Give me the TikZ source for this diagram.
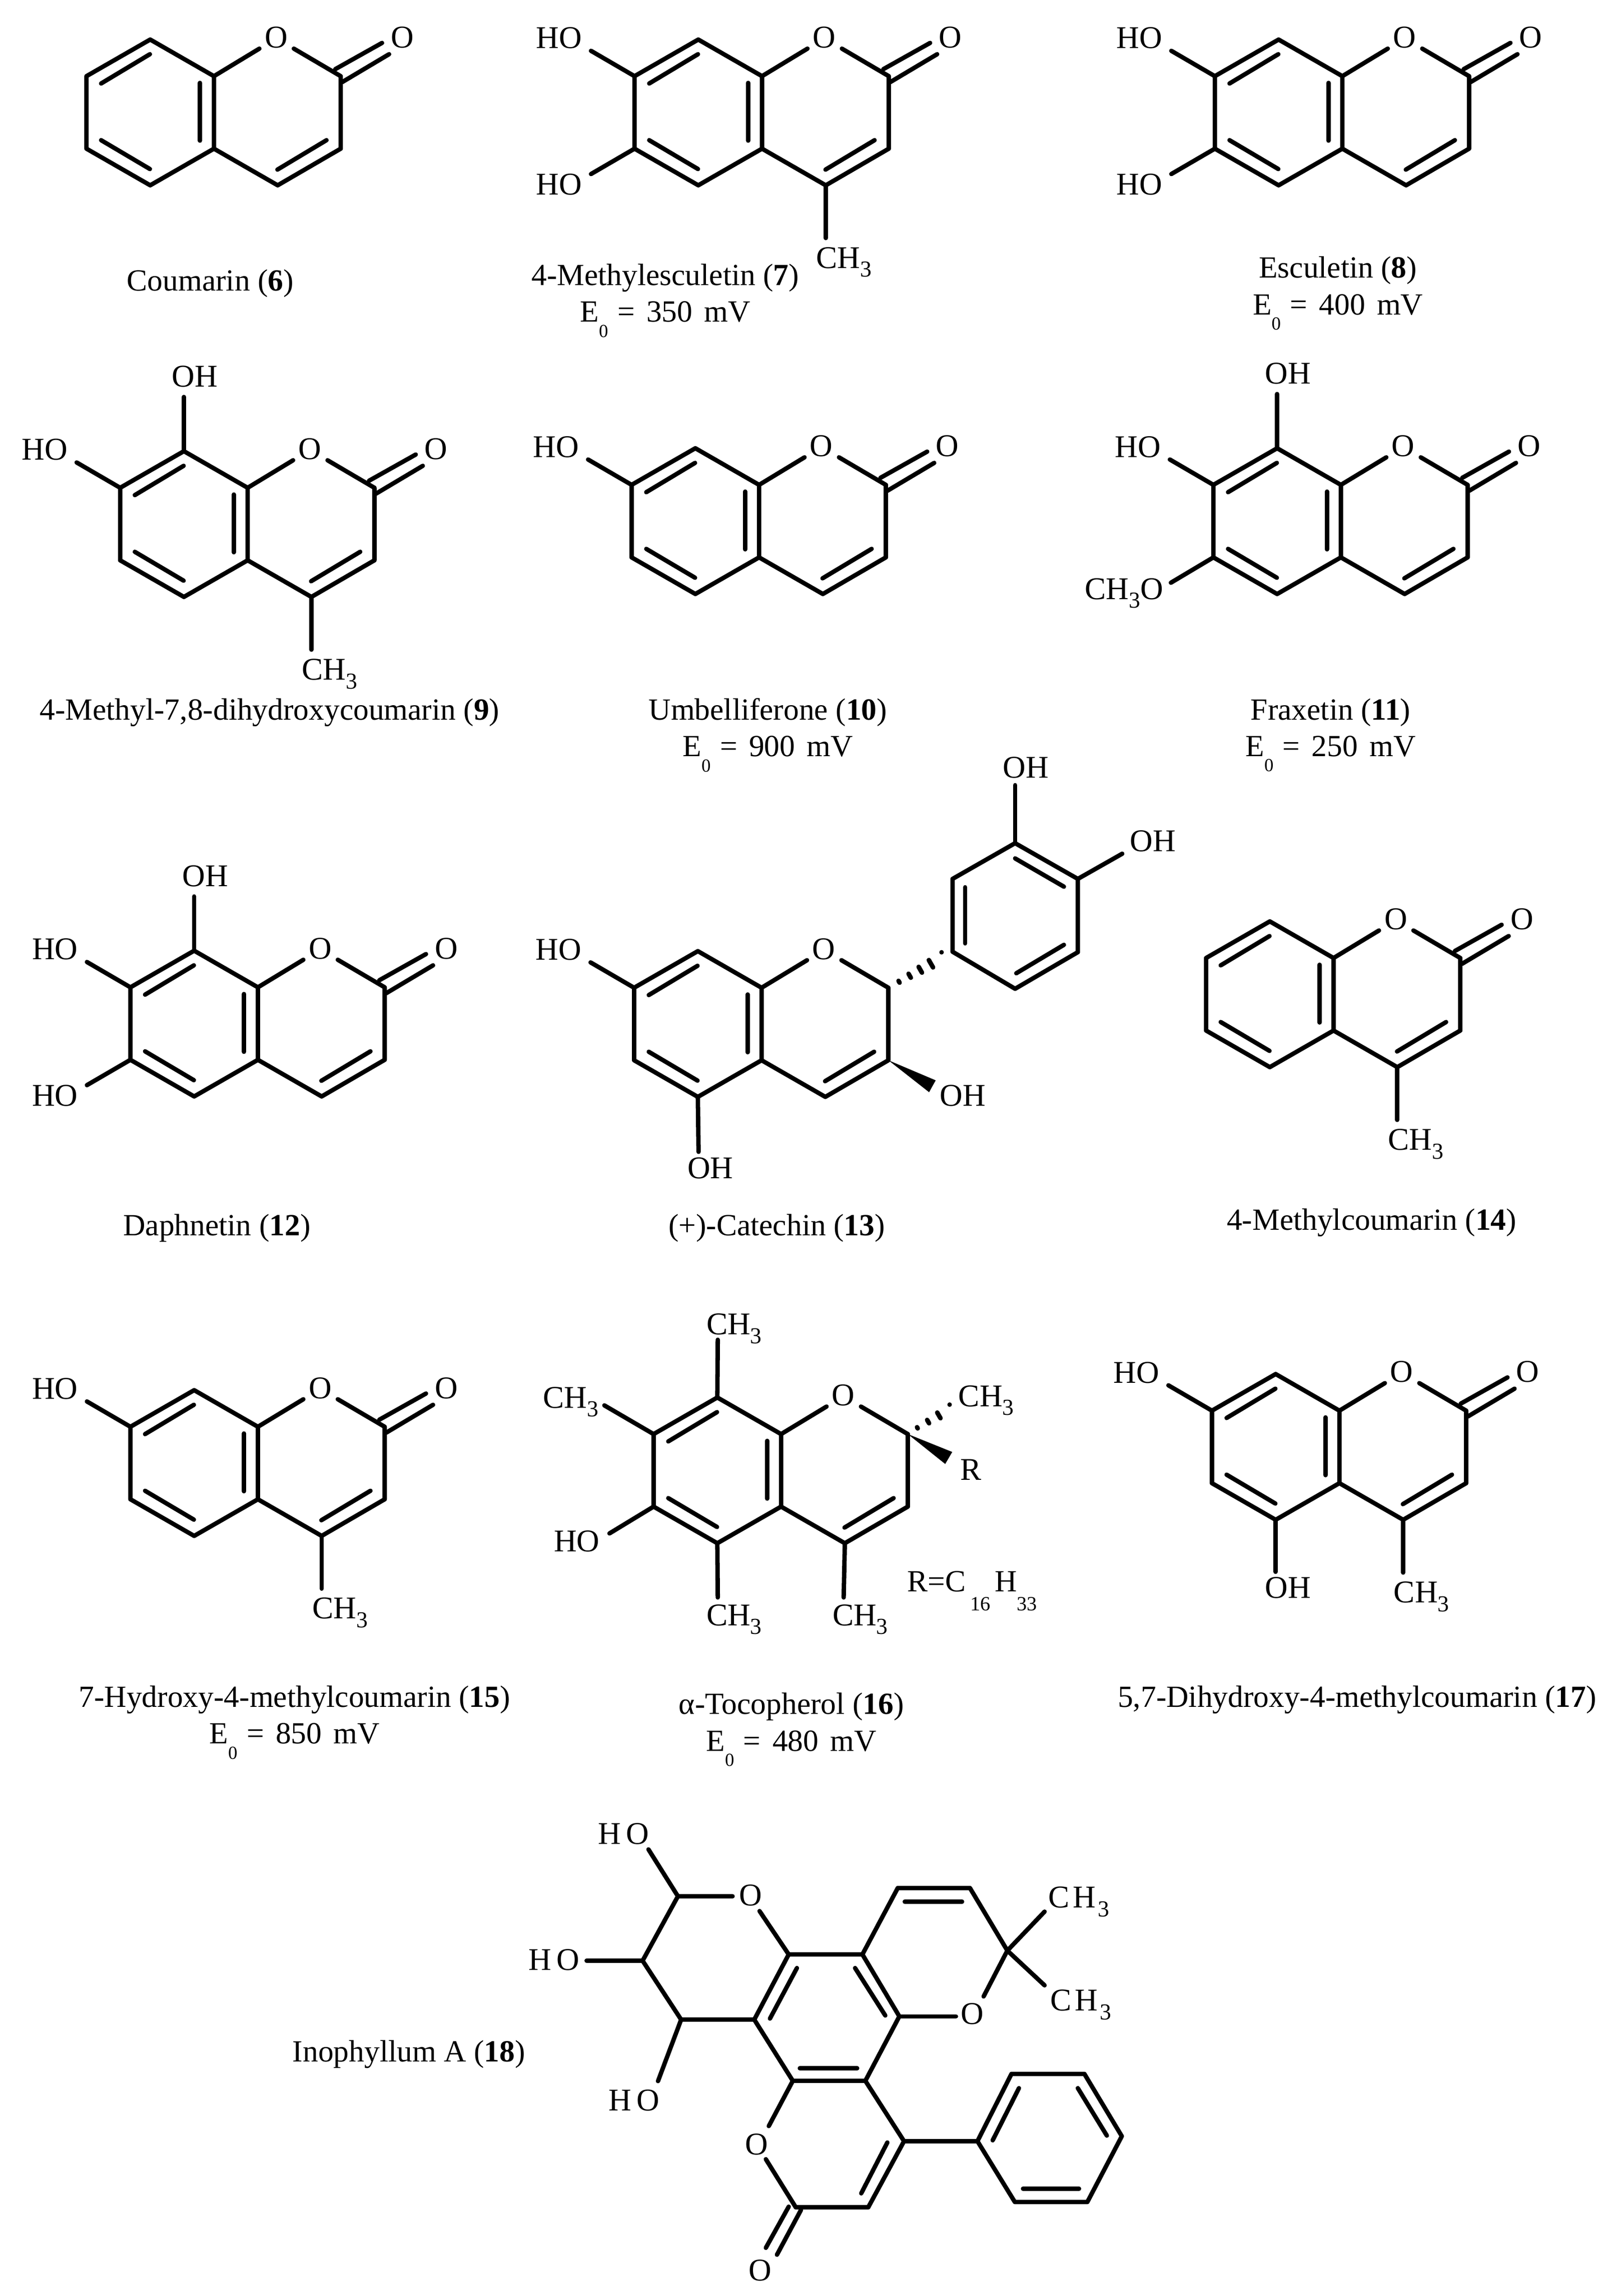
\documentclass[tikz,border=0pt]{standalone}
\usepackage{fontspec}
\setmainfont{Liberation Serif}
\usetikzlibrary{calc}
\tikzset{
  bond/.style={line width=2.5pt,line cap=round,line join=round,black},
  hashl/.style={line width=2.6pt,line cap=round,black},
  atomlab/.style={inner sep=0pt,text height=11.8pt,text depth=0pt,font=\fontsize{18}{18}\selectfont},
  rlab/.style={inner sep=0pt,text height=11.5pt,text depth=0pt,font=\fontsize{17.5}{17.5}\selectfont},
  capt/.style={inner sep=0pt,align=center,font=\fontsize{17.5}{20.8}\selectfont}
}
\newcommand{\sbs}[1]{\raisebox{-.28em}{\fontsize{13}{13}\selectfont #1}}
\newcommand{\ez}[1]{E\raisebox{-.5em}{\fontsize{10.5}{10.5}\selectfont 0}\hspace{.3em}=\hspace{.38em}#1\hspace{.38em}mV}
\newcommand{\chm}{CH\sbs{3}}
\newcommand{\rsb}[2]{\makebox[#1][c]{\raisebox{-.62em}{\fontsize{11.5}{11.5}\selectfont #2}}}
% chromene skeleton: prefix, x and y of the upper ring-fusion atom
\newcommand{\chromskel}[3]{%
\begin{scope}[shift={(#2,#3)}]
 \coordinate (#1j) at (0,0);
 \coordinate (#1c8) at (-43.5,-25);
 \coordinate (#1c7) at (-87,0);
 \coordinate (#1c6) at (-87,49.5);
 \coordinate (#1c5) at (-43.5,74.5);
 \coordinate (#1c4a) at (0,49.5);
 \coordinate (#1c2) at (86.5,0);
 \coordinate (#1c3) at (86.5,49.5);
 \coordinate (#1c4) at (43.5,74.5);
 \coordinate (#1oa) at (31,-18.8);
 \coordinate (#1ob) at (54.5,-18.8);
 \coordinate (#1ia) at (-43.7,-15);
 \coordinate (#1ib) at (-77,5);
 \coordinate (#1ic) at (-77,43.7);
 \coordinate (#1id) at (-43.7,63.4);
 \coordinate (#1ie) at (-9.5,4.6);
 \coordinate (#1if) at (-9.5,44);
 \coordinate (#1ig) at (76.8,43.7);
 \coordinate (#1ih) at (43.3,63.8);
 \node[atomlab] (#1o) at (42.5,-26.5) {O};
 \draw[bond] (#1oa) -- (#1j) -- (#1c8) -- (#1c7) -- (#1c6) -- (#1c5) -- (#1c4a) -- (#1j);
 \draw[bond] (#1ob) -- (#1c2) -- (#1c3) -- (#1c4) -- (#1c4a);
 \draw[bond] (#1ia) -- (#1ib);
 \draw[bond] (#1ic) -- (#1id);
 \draw[bond] (#1ie) -- (#1if);
 \draw[bond] (#1ig) -- (#1ih);
\end{scope}}
% coumarin: chromene plus the C=O
\newcommand{\coumskel}[3]{%
\chromskel{#1}{#2}{#3}%
\begin{scope}[shift={(#2,#3)}]
 \coordinate (#1pa) at (82.8,-4.8);
 \coordinate (#1pb) at (114.7,-22.7);
 \coordinate (#1pc) at (87.6,4);
 \coordinate (#1pd) at (119.5,-15);
 \node[atomlab] (#1oe) at (128.5,-26.5) {O};
 \draw[bond] (#1pa) -- (#1pb);
 \draw[bond] (#1pc) -- (#1pd);
\end{scope}}
% substituent: prefix, atom, tag, bond end, label centre (both from j), text
\newcommand{\subst}[6]{%
 \coordinate (#1#3e) at ($(#1j)+(#4)$);
 \node[atomlab] (#1#3) at ($(#1j)+(#5)$) {#6};
 \draw[bond] (#1#2) -- (#1#3e);}
\newcommand{\hosev}[1]{\subst{#1}{c7}{hoa}{-116.7,-17.3}{-138.5,-26}{HO}}
\newcommand{\hosix}[1]{\subst{#1}{c6}{hob}{-116.7,66.8}{-138.5,74}{HO}}
\newcommand{\oheig}[1]{\subst{#1}{c8}{hoc}{-43.5,-62}{-36,-76}{OH}}
\newcommand{\mefour}[1]{\subst{#1}{c4}{me}{43.5,110.5}{56,124}{\chm}}
% hashed bond: dash centres from #1 to #2, list pos/half-length
\newcommand{\hashb}[3]{%
 \foreach \t/\l in {#3}{
  \path (#1) -- (#2) coordinate[pos=\t] (hh);
  \draw[hashl] ($(hh)!\l pt!90:(#2)$) -- ($(hh)!\l pt!-90:(#2)$);
 }}
\begin{document}
\begin{tikzpicture}[x=0.02929cm,y=-0.02929cm]
\useasboundingbox (0,0) rectangle (1100,1567.4);
% 6
\coumskel{a}{146}{52}
\node[capt] (capa) at (143.5,193.5) {Coumarin (\textbf{6})};
% 7
\coumskel{b}{520}{52}
\hosev{b}\hosix{b}\mefour{b}
\node[capt,anchor=north] (capb) at (454,180) {4-Methylesculetin (\textbf{7})\\ \ez{350}};
% 8
\coumskel{c}{916}{52}
\hosev{c}\hosix{c}
\node[capt,anchor=north] (capc) at (913,175) {Esculetin (\textbf{8})\\ \ez{400}};
% 9
\coumskel{d}{169}{333}
\hosev{d}\oheig{d}\mefour{d}
\node[capt] (capd) at (184,486.5) {4-Methyl-7,8-dihydroxycoumarin (\textbf{9})};
% 10
\coumskel{e}{518}{331}
\hosev{e}
\node[capt,anchor=north] (cape) at (524,476.5) {Umbelliferone (\textbf{10})\\ \ez{900}};
% 11
\coumskel{f}{915}{331}
\hosev{f}\oheig{f}
\subst{f}{c6}{ome}{-116,66.8}{-148,71}{\chm O}
\node[capt,anchor=north] (capf) at (908,476.5) {Fraxetin (\textbf{11})\\ \ez{250}};
% 12
\coumskel{g}{176}{674}
\hosev{g}\hosix{g}\oheig{g}
\node[capt] (capg) at (148,838.5) {Daphnetin (\textbf{12})};
% 13
\chromskel{h}{519.7}{674.3}
\hosev{h}
\subst{h}{c5}{hod}{-43,112}{-35,123}{OH}
\coordinate (hpa) at (650,649.7);
\coordinate (hpb) at (650,600);
\coordinate (hpc) at (692.7,575.6);
\coordinate (hpd) at (735.5,600);
\coordinate (hpe) at (735.5,650);
\coordinate (hpf) at (692.7,675);
\draw[bond] (hpa) -- (hpb) -- (hpc) -- (hpd) -- (hpe) -- (hpf) -- (hpa);
\coordinate (hia) at (658.6,605.7);
\coordinate (hib) at (658.6,644);
\coordinate (hic) at (692.7,586);
\coordinate (hid) at (726,605.3);
\coordinate (hie) at (726,645);
\coordinate (hif) at (693.5,664.4);
\draw[bond] (hia) -- (hib);
\draw[bond] (hic) -- (hid);
\draw[bond] (hie) -- (hif);
\coordinate (hoe) at (692.7,536);
\node[atomlab] (hof) at (700,524) {OH};
\draw[bond] (hpc) -- (hoe);
\coordinate (hog) at (765.8,582.8);
\node[atomlab] (hoh) at (786.6,574) {OH};
\draw[bond] (hpd) -- (hog);
\coordinate (hha) at (613.5,670.2);
\coordinate (hhb) at (642.5,653.8);
\hashb{hha}{hhb}{0/0.6,0.25/1.3,0.5/1.9,0.75/2.4,1/3.1}
\coordinate (hwa) at (638.5,737.5);
\coordinate (hwb) at (634,745.6);
\fill (hc3) -- (hwa) -- (hwb) -- cycle;
\node[atomlab] (hoi) at (657,748) {OH};
\node[capt] (caph) at (530,838.5) {(+)-Catechin (\textbf{13})};
% 14
\coumskel{i}{910}{654}
\mefour{i}
\node[capt] (capi) at (936,834.5) {4-Methylcoumarin (\textbf{14})};
% 15
\coumskel{j}{176}{974}
\hosev{j}\mefour{j}
\node[capt,anchor=north] (capj) at (201,1150.5) {7-Hydroxy-4-methylcoumarin (\textbf{15})\\ \ez{850}};
% 16
\chromskel{k}{533}{979}
\subst{k}{c8}{mea}{-43.2,-64.4}{-32,-75}{\chm}
\subst{k}{c7}{meb}{-120.6,-19.6}{-143.5,-25}{\chm}
\subst{k}{c6}{hoa}{-117.1,67.8}{-139.4,73}{HO}
\subst{k}{c5}{mec}{-43.2,111.5}{-32,123.5}{\chm}
\subst{k}{c4}{med}{42.7,111.5}{54,123.5}{\chm}
\coordinate (kha) at (626,974.7);
\coordinate (khb) at (648,962);
\hashb{kha}{khb}{0/0.4,0.333/1.1,0.667/1.85,1/2.6}
\coordinate (kwa) at (649.8,991.2);
\coordinate (kwb) at (645,999.4);
\fill (kc2) -- (kwa) -- (kwb) -- cycle;
\node[atomlab] (kme) at (673,953) {\chm};
\node[atomlab] (kr) at (662.4,1003.4) {R};
\node[rlab,anchor=west] (krr) at (619,1079.6) {R=C\rsb{.95em}{16}H\rsb{.62em}{33}};
\node[capt,anchor=north] (capk) at (540,1155.5) {α-Tocopherol (\textbf{16})\\ \ez{480}};
% 17
\coumskel{l}{914}{963}
\hosev{l}\mefour{l}
\subst{l}{c5}{hod}{-43.5,110}{-35,121}{OH}
\node[capt] (capl) at (926,1160.5) {5,7-Dihydroxy-4-methylcoumarin (\textbf{17})};
% 18
\coordinate (ma) at (462.6,1294.5);
\coordinate (mb) at (438.5,1338.5);
\coordinate (mc) at (464.8,1378.7);
\coordinate (md) at (514.7,1378.7);
\coordinate (me) at (538.2,1334.2);
\coordinate (mf) at (588.5,1334.2);
\coordinate (mg) at (613.7,1376.5);
\coordinate (mh) at (590.5,1420.5);
\coordinate (mi) at (541,1420.5);
\coordinate (mj) at (612.6,1288.9);
\coordinate (mk) at (661.9,1288.9);
\coordinate (ml) at (687.4,1331.6);
\coordinate (mm) at (616.9,1461.7);
\coordinate (mn) at (592.5,1506.8);
\coordinate (mo) at (543,1506.8);
\coordinate (mp) at (667,1461.7);
\coordinate (mq) at (690.2,1415.8);
\coordinate (mr) at (740,1415.8);
\coordinate (ms) at (765.5,1458.3);
\coordinate (mt) at (742,1503.2);
\coordinate (mu) at (692.5,1503.2);
\node[atomlab] (mol) at (512.1,1293.8) {O};
\node[atomlab] (mom) at (663.6,1374.8) {O};
\node[atomlab] (mon) at (516.4,1463.7) {O};
\node[atomlab] (moo) at (518.6,1550) {O};
\coordinate (mea) at (499.9,1294.5);
\coordinate (meb) at (518.3,1304.6);
\coordinate (mec) at (652.3,1376.5);
\coordinate (med) at (671.2,1362.9);
\coordinate (mee) at (524.6,1451.4);
\coordinate (mef) at (522.6,1474);
\draw[bond] (mea) -- (ma) -- (mb) -- (mc) -- (md) -- (me) -- (mf) -- (mg) -- (mh) -- (mi) -- (md);
\draw[bond] (meb) -- (me);
\draw[bond] (mf) -- (mj) -- (mk) -- (ml) -- (med);
\draw[bond] (mg) -- (mec);
\draw[bond] (mee) -- (mi);
\draw[bond] (mef) -- (mo) -- (mn) -- (mm) -- (mh);
\draw[bond] (mm) -- (mp) -- (mq) -- (mr) -- (ms) -- (mt) -- (mu) -- (mp);
\coordinate (mia) at (543.8,1343.5);
\coordinate (mib) at (525.4,1378);
\coordinate (mic) at (583.5,1343.5);
\coordinate (mid) at (604.1,1375.9);
\coordinate (mie) at (545.8,1412);
\coordinate (mif) at (584.9,1412);
\coordinate (mig) at (617.4,1298.2);
\coordinate (mih) at (656.5,1298.2);
\coordinate (mii) at (605.5,1462.6);
\coordinate (mij) at (587.7,1497.3);
\coordinate (mik) at (695.3,1425.5);
\coordinate (mil) at (677.4,1461.1);
\coordinate (mim) at (735.5,1425.5);
\coordinate (min) at (755.3,1457.9);
\coordinate (mio) at (698.1,1494.1);
\coordinate (mip) at (736.3,1494.1);
\coordinate (miq) at (538.2,1506.4);
\coordinate (mir) at (522.6,1534.5);
\coordinate (mis) at (546.6,1508.6);
\coordinate (mit) at (530.2,1539.2);
\draw[bond] (mia) -- (mib);
\draw[bond] (mic) -- (mid);
\draw[bond] (mie) -- (mif);
\draw[bond] (mig) -- (mih);
\draw[bond] (mii) -- (mij);
\draw[bond] (mik) -- (mil);
\draw[bond] (mim) -- (min);
\draw[bond] (mio) -- (mip);
\draw[bond] (miq) -- (mir);
\draw[bond] (mis) -- (mit);
\coordinate (mha) at (712.8,1305);
\coordinate (mhb) at (712.8,1355.3);
\coordinate (mhc) at (442.5,1262.5);
\coordinate (mhd) at (400.3,1338.5);
\coordinate (mhe) at (449,1420.7);
\draw[bond] (ml) -- (mha);
\draw[bond] (ml) -- (mhb);
\draw[bond] (ma) -- (mhc);
\draw[bond] (mb) -- (mhd);
\draw[bond] (mc) -- (mhe);
\node[atomlab] (mla) at (736.3,1295.3) {C\hspace{.1em}H\hspace{.08em}\sbs{3}};
\node[atomlab] (mlb) at (737.7,1365.5) {C\hspace{.1em}H\hspace{.08em}\sbs{3}};
\node[atomlab] (mlc) at (425.5,1251.8) {H\,O};
\node[atomlab] (mld) at (378.2,1338) {H\,O};
\node[atomlab] (mle) at (432.6,1433.7) {H\,O};
\node[capt] (capm) at (279,1402.5) {Inophyllum A (\textbf{18})};
\end{tikzpicture}
\end{document}
